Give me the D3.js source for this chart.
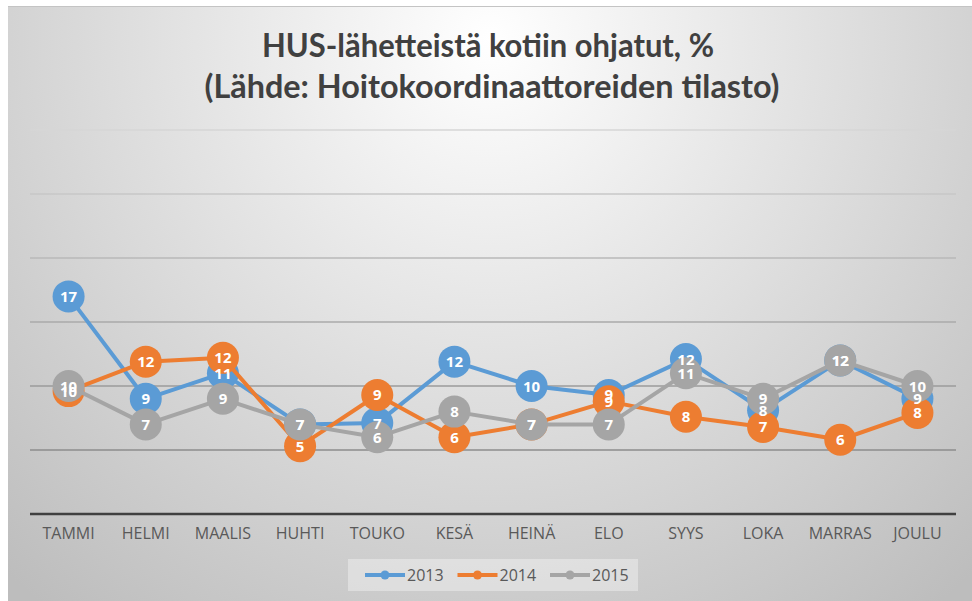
<!DOCTYPE html>
<html lang="fi">
<head>
<meta charset="UTF-8">
<title>HUS-lähetteistä kotiin ohjatut</title>
<script src="https://cdn.jsdelivr.net/npm/d3@7"></script>
<style>
    body { margin: 0; background: #fff; }
    .axis text { font-family: "Open Sans", sans-serif; font-size: 16px; fill: #595959; }
    .axis path, .axis line { display: none; }
    .lbl { font-family: "Open Sans", sans-serif; font-weight: bold; font-size: 15px; fill: #fff; }
</style>
</head>
<body>
<script>
    // data
    const months = ['TAMMI', 'HELMI', 'MAALIS', 'HUHTI', 'TOUKO', 'KESÄ', 'HEINÄ', 'ELO', 'SYYS', 'LOKA', 'MARRAS', 'JOULU']
    const years = ['2013', '2014', '2015']
    const v2013 = [17, 9, 11, 7, 7.1, 11.9, 10, 9.3, 12.1, 8.1, 12, 9]
    const v2014 = [9.6, 11.9, 12.2, 5.3, 9.3, 6, 7, 8.8, 7.6, 6.8, 5.8, 7.9]
    const v2015 = [10, 7, 9, 7, 6, 8, 7, 7, 11, 9, 12, 10]
    const yTicks = [0, 5, 10, 15, 20, 25, 30]
    const colors = ['#5b9bd5', '#ed7d31', '#a5a5a5']

    const width = 972, height = 601
    const svg = d3.select('body').append('svg').attr('width', width).attr('height', height)

    // background gradient
    const defs = svg.append('defs')
    const grad = defs.append('radialGradient').attr('id', 'bg')
        .attr('gradientUnits', 'userSpaceOnUse')
        .attr('cx', 490).attr('cy', 40).attr('r', 720)
    grad.append('stop').attr('offset', '0%').attr('stop-color', '#ffffff')
    grad.append('stop').attr('offset', '100%').attr('stop-color', '#bdbdbd')

    svg.append('rect').attr('x', 8).attr('y', 6).attr('width', width - 8).attr('height', height - 6)
        .attr('fill', 'url(#bg)')
    svg.append('line').attr('x1', 8).attr('x2', width).attr('y1', 6.5).attr('y2', 6.5)
        .attr('stroke', '#c4c4c4').attr('stroke-width', 1)

    // title
    const title = svg.append('text').attr('text-anchor', 'middle')
        .attr('font-family', 'Lato, sans-serif').attr('font-weight', 'bold')
        .attr('font-size', 32).attr('fill', '#404040')
    title.append('tspan').attr('x', 488).attr('y', 57)
        .attr('textLength', 452).attr('lengthAdjust', 'spacingAndGlyphs')
        .text('HUS-lähetteistä kotiin ohjatut, %')
    title.append('tspan').attr('x', 492).attr('y', 98)
        .attr('textLength', 575).attr('lengthAdjust', 'spacingAndGlyphs')
        .text('(Lähde: Hoitokoordinaattoreiden tilasto)')

    // scales
    const x = d3.scaleBand().domain(months).range([30, 956])
    const y = d3.scaleLinear().domain([0, 30]).range([514, 130])
    const cx = m => x(m) + x.bandwidth() / 2

    // gridlines
    const shade = d3.scaleLinear().domain([30, 5]).range(['#d6d6d6', '#8c8c8c'])
    svg.append('g').selectAll('line')
        .data(yTicks.filter(d => d > 0))
        .enter()
        .append('line')
        .attr('x1', 30).attr('x2', 956)
        .attr('y1', d => y(d)).attr('y2', d => y(d))
        .attr('stroke', d => shade(d)).attr('stroke-width', 1.5)

    // axis
    svg.append('line').attr('x1', 30).attr('x2', 956).attr('y1', y(0)).attr('y2', y(0))
        .attr('stroke', '#404040').attr('stroke-width', 2.5)
    svg.append('g').attr('class', 'axis')
        .attr('transform', 'translate(0,' + y(0) + ')')
        .call(d3.axisBottom(x).tickSize(0).tickPadding(14))

    // series
    const series = [v2013, v2014, v2015].map((vals, i) => ({
        name: years[i], color: colors[i],
        pts: vals.map((v, j) => ({ m: months[j], v: v }))
    }))
    const line = d3.line().x(d => cx(d.m)).y(d => y(d.v))

    series.forEach(s => {
        const g = svg.append('g')
        g.append('path').attr('d', line(s.pts))
            .attr('fill', 'none').attr('stroke', s.color).attr('stroke-width', 4)
            .attr('stroke-linejoin', 'round')
        g.selectAll('circle')
            .data(s.pts)
            .enter()
            .append('circle')
            .attr('cx', d => cx(d.m)).attr('cy', d => y(d.v)).attr('r', 16)
            .attr('fill', s.color)
    })

    // labels on top of everything
    series.forEach(s => {
        svg.append('g').selectAll('text')
            .data(s.pts)
            .enter()
            .append('text')
            .attr('class', 'lbl')
            .attr('x', d => cx(d.m)).attr('y', d => y(d.v) + 5.5)
            .attr('text-anchor', 'middle')
            .text(d => Math.round(d.v))
    })

    // legend
    const lg = svg.append('g')
    lg.append('rect').attr('x', 348).attr('y', 559).attr('width', 290).attr('height', 32)
        .attr('fill', '#ffffff').attr('fill-opacity', 0.35)
    series.forEach((s, i) => {
        const lx = 365 + i * 92.5
        lg.append('line').attr('x1', lx).attr('x2', lx + 40).attr('y1', 575).attr('y2', 575)
            .attr('stroke', s.color).attr('stroke-width', 4)
        lg.append('circle').attr('cx', lx + 20).attr('cy', 575).attr('r', 4.5).attr('fill', s.color)
        lg.append('text').attr('x', lx + 42).attr('y', 581)
            .attr('font-family', 'Open Sans, sans-serif').attr('font-size', 16).attr('fill', '#595959')
            .text(s.name)
    })
</script>
</body>
</html>
